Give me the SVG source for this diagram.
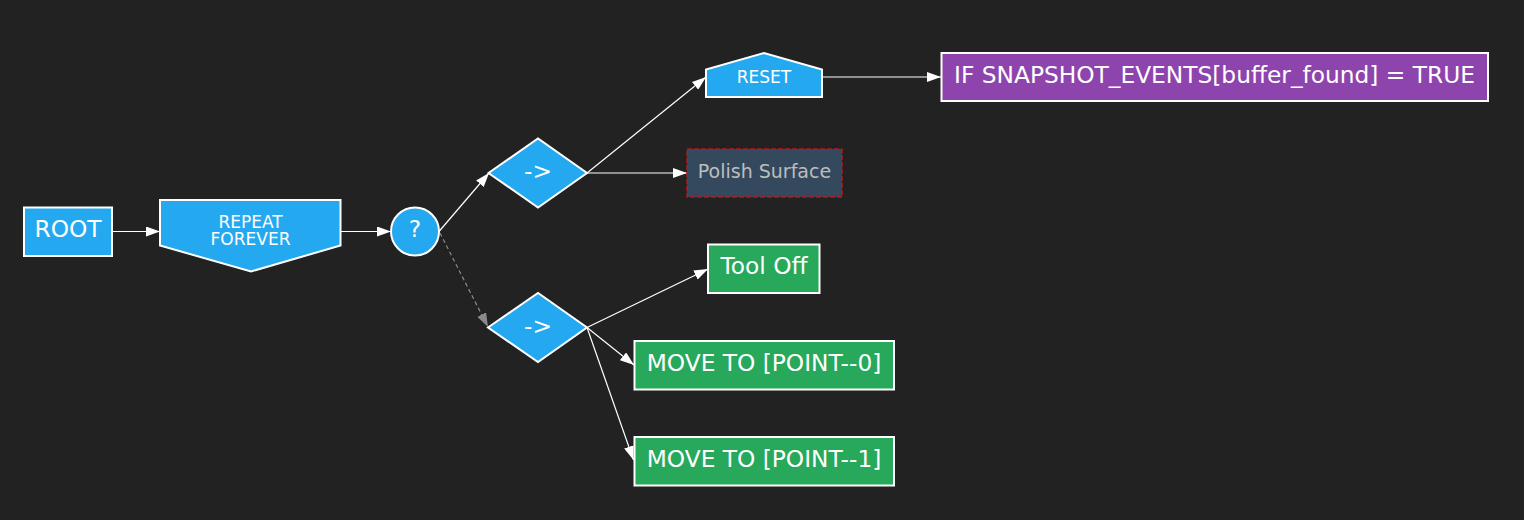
<svg xmlns="http://www.w3.org/2000/svg" width="1524" height="520" viewBox="0 0 1524 520">
<defs>
<style>
.node{fill:#24a8f0;stroke:#ffffff;stroke-width:2}
.act{fill:#27a85b;stroke:#ffffff;stroke-width:2}
.cond{fill:#8e44ad;stroke:#ffffff;stroke-width:2}
.t{font-family:"DejaVu Sans",sans-serif;fill:#ffffff;text-anchor:middle}
.big{font-size:23.3px}
.small{font-size:17px}
.e{stroke:#ffffff;stroke-width:1.2;fill:none;marker-end:url(#arr)}
.ed{stroke:#8a8a8a;stroke-width:1.2;fill:none;stroke-dasharray:4,3;marker-end:url(#arrg)}
</style>
<marker id="arr" markerUnits="userSpaceOnUse" markerWidth="14" markerHeight="10" refX="14" refY="5" orient="auto">
<path d="M0,0 L14,5 L0,10 z" fill="#ffffff"/>
</marker>
<marker id="arrg" markerUnits="userSpaceOnUse" markerWidth="14" markerHeight="10" refX="14" refY="5" orient="auto">
<path d="M0,0 L14,5 L0,10 z" fill="#8a8a8a"/>
</marker>
</defs>
<rect x="0" y="0" width="1524" height="520" fill="#222222"/>
<g id="connectors">
<line class="e" x1="112" y1="231.5" x2="160" y2="231.5"/>
<line class="e" x1="340" y1="231.5" x2="391" y2="231.5"/>
<line class="e" x1="439" y1="231.5" x2="489" y2="173"/>
<line class="ed" x1="440" y1="233" x2="488" y2="327"/>
<line class="e" x1="587" y1="173" x2="706" y2="77"/>
<line class="e" x1="587" y1="173" x2="687" y2="173"/>
<line class="e" x1="822" y1="77" x2="941" y2="77"/>
<line class="e" x1="587" y1="327.5" x2="708" y2="269"/>
<line class="e" x1="587" y1="327.5" x2="634" y2="365"/>
<line class="e" x1="587" y1="327.5" x2="633.5" y2="460"/>
</g>
<g id="root">
<rect class="node" x="24" y="207.5" width="88" height="48.5"/>
<text class="t big" x="68" y="236.8">ROOT</text>
</g>
<g id="repeat">
<polygon class="node" points="160,200 340.5,200 340.5,245.5 251,271.5 160,245.5"/>
<text class="t small" x="250.5" y="228.2">REPEAT</text>
<text class="t small" x="250.5" y="245.2">FOREVER</text>
</g>
<g id="selector">
<circle class="node" cx="415" cy="231.5" r="24"/>
<text class="t big" x="415" y="236.8">?</text>
</g>
<g id="seq1">
<polygon class="node" points="488.5,173 538,138.5 587,173 538,207.5"/>
<text class="t big" x="538" y="179">-&gt;</text>
</g>
<g id="seq2">
<polygon class="node" points="488,327.5 538,293 587,327.5 538,362"/>
<text class="t big" x="538" y="334">-&gt;</text>
</g>
<g id="reset">
<polygon class="node" points="706,97 706,69.5 764,53 822,69.5 822,97"/>
<text class="t small" x="764" y="82.5">RESET</text>
</g>
<g id="cond">
<rect class="cond" x="941.5" y="53" width="546.5" height="48"/>
<text class="t big" x="1214.5" y="82.5">IF SNAPSHOT_EVENTS[buffer_found] = TRUE</text>
</g>
<g id="polish">
<rect x="687" y="149" width="155" height="48" fill="#34495e" stroke="#c0141c" stroke-width="1.4" stroke-dasharray="5,2"/>
<text class="t" x="764.5" y="177.9" style="font-size:19px;fill:#bdbdbd">Polish Surface</text>
</g>
<g id="tooloff">
<rect class="act" x="708" y="244.5" width="111.5" height="48.5"/>
<text class="t big" x="764" y="273.5">Tool Off</text>
</g>
<g id="move0">
<rect class="act" x="634.5" y="341" width="259.5" height="48.5"/>
<text class="t big" x="764" y="370.5">MOVE TO [POINT--0]</text>
</g>
<g id="move1">
<rect class="act" x="634.5" y="437" width="259.5" height="48.5"/>
<text class="t big" x="764" y="466.5">MOVE TO [POINT--1]</text>
</g>
</svg>
